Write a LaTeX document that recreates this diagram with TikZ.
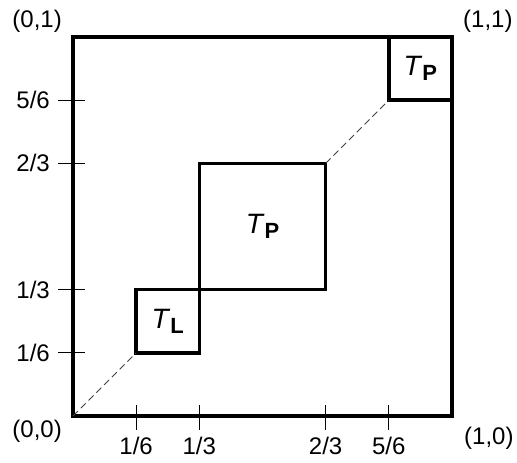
\documentclass[tikz,border=0pt]{standalone}
\usepackage{fontspec}
\setmainfont{Liberation Sans}
\usetikzlibrary{positioning}
\newcommand{\tsub}[1]{\textit{T}\raisebox{-0.3ex}{\fontsize{22}{24}\selectfont\bfseries #1}}

\begin{document}
\begin{tikzpicture}[
  x=379pt, y=379pt,
  font=\fontsize{24}{28}\selectfont,
  frame/.style={draw, line width=4.2pt},
  blk/.style={draw, line width=3.4pt, outer sep=0pt, inner sep=0pt, font=\fontsize{28}{32}\selectfont},
  lbl/.style={inner sep=0pt},
  tick/.style={line width=1pt},
  diag/.style={line width=0.9pt, black!75, dash pattern=on 7pt off 4pt}
]
  \useasboundingbox (-0.1926,-0.1214) rectangle (1.1715,1.0976);

  % Cadre unité
  \coordinate (o) at (0,0);
  \coordinate (ex) at (1,0);
  \coordinate (ey) at (0,1);
  \coordinate (exy) at (1,1);
  \draw[frame] (o) rectangle (exy);

  % Coins
  \node[lbl, below left=4pt and 11pt of o] (c00) {(0,0)};
  \node[lbl, below right=11pt and 12pt of ex] (c10) {(1,0)};
  \node[lbl, above left=4pt and 11pt of ey] (c01) {(0,1)};
  \node[lbl, above right=4pt and 11pt of exy] (c11) {(1,1)};

  % Graduations
  \foreach \n/\d in {1/6,1/3,2/3,5/6} {
    \coordinate (xt\n\d) at (\n/\d,-0.037);
    \coordinate (yt\n\d) at (-0.0396,\n/\d);
    \draw[tick] (xt\n\d) -- ++(0,0.066);
    \draw[tick] (yt\n\d) -- ++(0.0713,0);
    \node[lbl, below=7pt of xt\n\d] (xl\n\d) {\n/\d};
    \node[lbl, left=8pt of yt\n\d] (yl\n\d) {\n/\d};
  }

  % Blocs
  \node[blk, minimum size=63.17pt] (tl) at (1/4,1/4) {\tsub{L}};
  \node[blk, minimum size=126.33pt] (tp) at (1/2,1/2) {\tsub{P}};
  \node[blk, minimum size=63.17pt] (tr) at (11/12,11/12) {\tsub{P}};

  % Diagonale
  \draw[diag] (o) -- (tl.south west);
  \draw[diag] (tp.north east) -- (tr.south west);
\end{tikzpicture}
\end{document}
